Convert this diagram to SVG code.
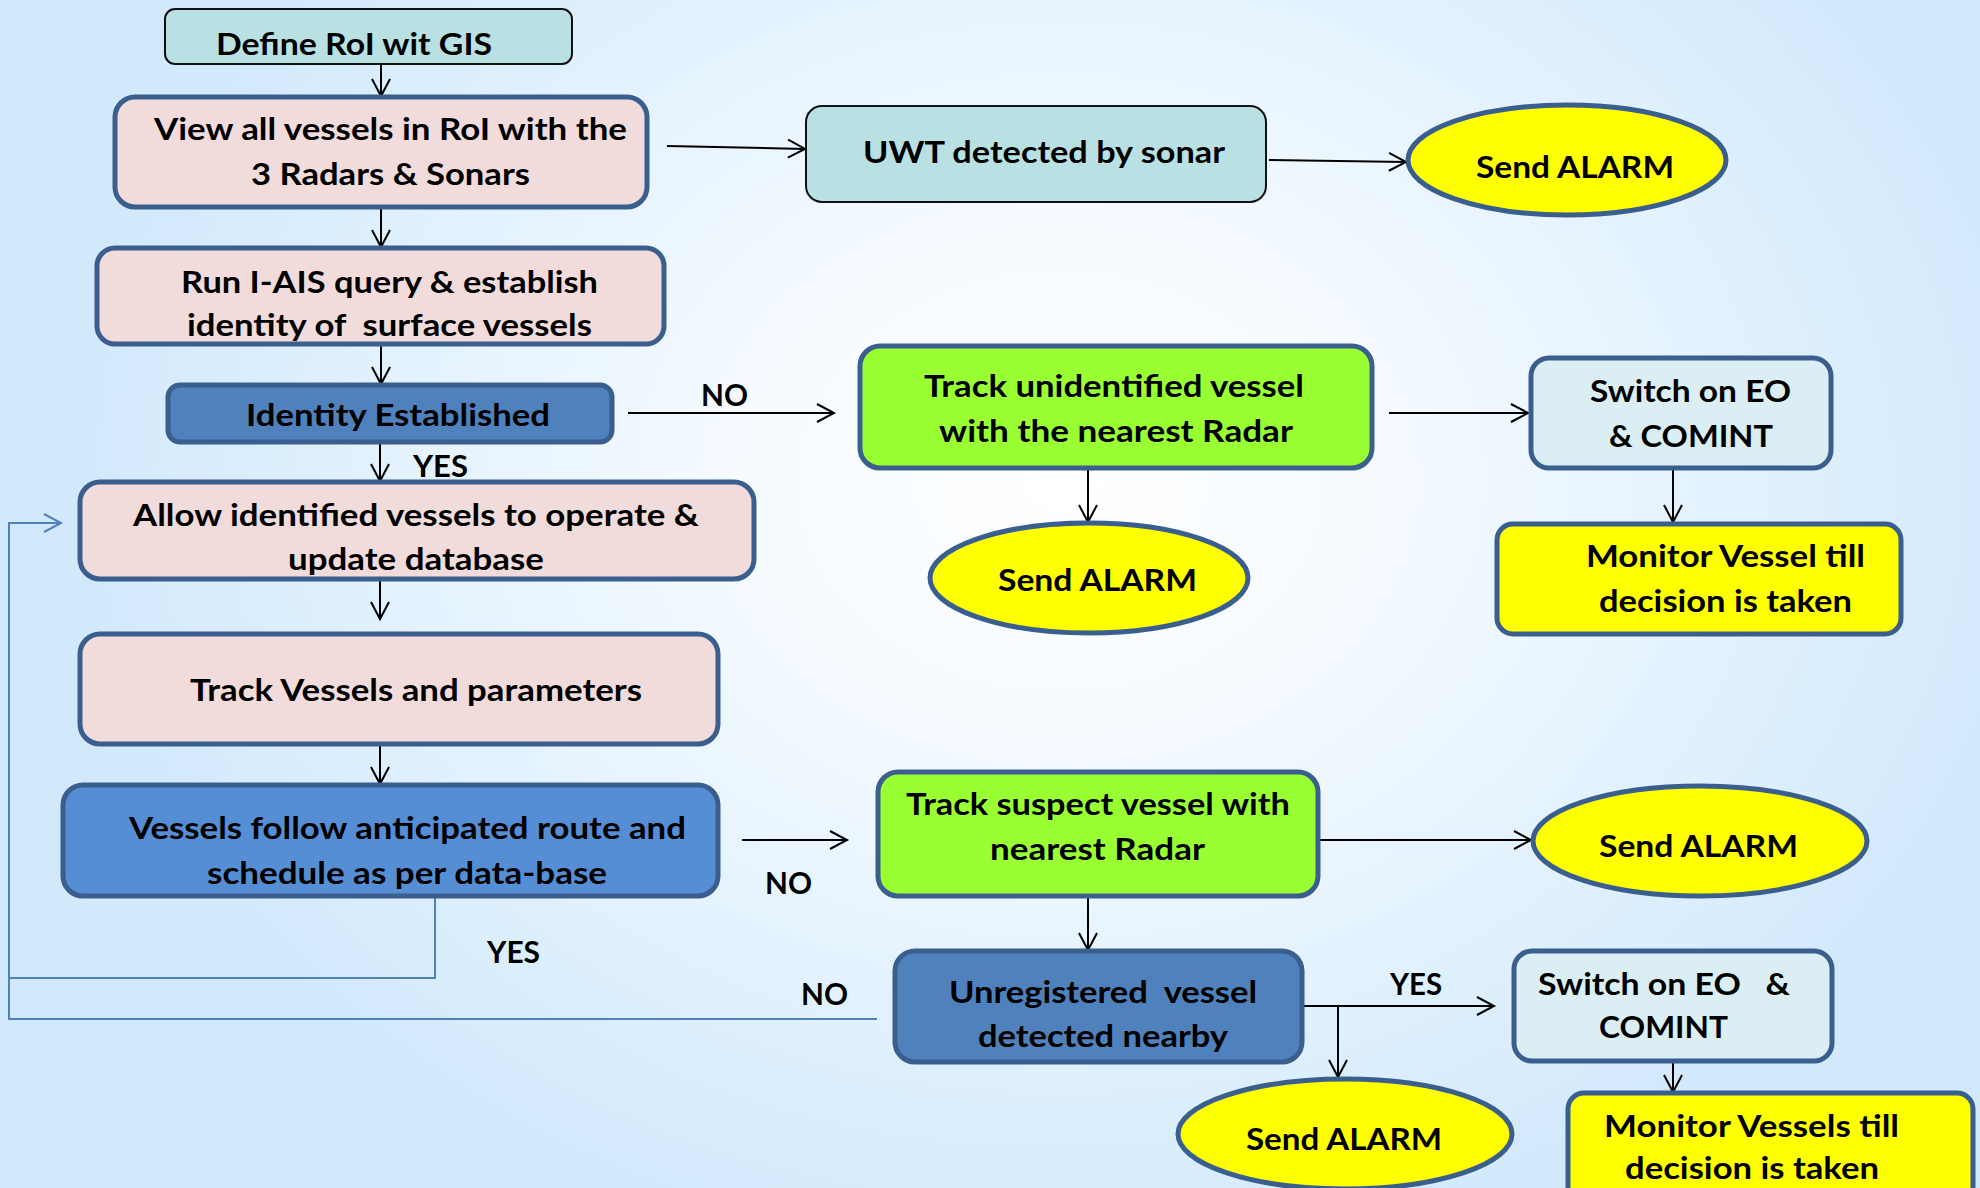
<svg xmlns="http://www.w3.org/2000/svg" width="1980" height="1188" viewBox="0 0 1980 1188">
  <defs>
    <radialGradient id="bg" gradientUnits="userSpaceOnUse" cx="1060" cy="480" r="980" gradientTransform="translate(1060 480) scale(1 0.8) translate(-1060 -480)">
      <stop offset="0" stop-color="#ffffff"/>
      <stop offset="0.35" stop-color="#f4faff"/>
      <stop offset="0.75" stop-color="#dff0fd"/>
      <stop offset="1" stop-color="#d2e9fc"/>
    </radialGradient>
    <marker id="arr" markerUnits="userSpaceOnUse" markerWidth="22" markerHeight="22" refX="18" refY="10" orient="auto" overflow="visible">
      <path d="M1,1 L18,10 L1,19" fill="none" stroke="#000" stroke-width="2"/>
    </marker>
    <marker id="arrBlue" markerUnits="userSpaceOnUse" markerWidth="22" markerHeight="22" refX="18" refY="10" orient="auto" overflow="visible">
      <path d="M1,1 L18,10 L1,19" fill="none" stroke="#4f81bd" stroke-width="2"/>
    </marker>
  </defs>
  <style>
    text { font-family: "Lato", "Carlito", "Liberation Sans", sans-serif; font-weight: bold; font-size: 31px; fill: #000; white-space: pre; }
    .box { stroke: #3a5f8f; stroke-width: 5; }
    .thin { stroke: #111; stroke-width: 2; }
    .pink { fill: #f2dcdb; }
    .teal { fill: #b9e0e2; }
    .blue { fill: #4f81bd; }
    .blue2 { fill: #558ed5; }
    .green { fill: #99ff33; }
    .yellow { fill: #ffff00; }
    .pale { fill: #dbeef4; }
    .conn { fill: none; stroke: #000; stroke-width: 2; marker-end: url(#arr); }
    .loop { fill: none; stroke: #4f81bd; stroke-width: 2; }
  </style>

  <rect x="0" y="0" width="1980" height="1188" fill="url(#bg)"/>

  <!-- connectors -->
  <g id="connectors">
    <path class="conn" d="M381,59 L381,96"/>
    <path class="conn" d="M381,208 L381,247"/>
    <path class="conn" d="M381,340 L381,384"/>
    <path class="conn" d="M380,443 L380,481"/>
    <path class="conn" d="M380,580 L380,619"/>
    <path class="conn" d="M380,745 L380,784"/>
    <path class="conn" d="M667,146 L805,149"/>
    <path class="conn" d="M1269,160 L1406,162"/>
    <path class="conn" d="M628,413 L834,413"/>
    <path class="conn" d="M1389,413 L1528,413"/>
    <path class="conn" d="M1088,469 L1088,522"/>
    <path class="conn" d="M1673,469 L1673,522"/>
    <path class="conn" d="M742,840 L847,840"/>
    <path class="conn" d="M1318,840 L1531,840"/>
    <path class="conn" d="M1088,897 L1088,950"/>
    <path class="conn" d="M1302,1006 L1494,1006"/>
    <path class="conn" d="M1338,1006 L1338,1077"/>
    <path class="conn" d="M1673,1062 L1673,1092"/>
    <!-- feedback loops back to "Allow identified vessels" -->
    <path class="loop" d="M877,1019 L9,1019 L9,978"/>
    <path class="loop" d="M435,884 L435,978 L9,978 L9,523 L61,523" marker-end="url(#arrBlue)"/>
    <!-- branch labels -->
    <text x="701" y="406" textLength="47" lengthAdjust="spacingAndGlyphs">NO</text>
    <text x="413" y="477" textLength="55" lengthAdjust="spacingAndGlyphs">YES</text>
    <text x="765" y="894" textLength="47" lengthAdjust="spacingAndGlyphs">NO</text>
    <text x="487" y="963" textLength="53" lengthAdjust="spacingAndGlyphs">YES</text>
    <text x="801" y="1005" textLength="47" lengthAdjust="spacingAndGlyphs">NO</text>
    <text x="1390" y="995" textLength="52" lengthAdjust="spacingAndGlyphs">YES</text>
  </g>

  <!-- left column -->
  <g id="define-roi">
    <rect class="teal thin" x="165" y="9" width="407" height="55" rx="10"/>
    <text x="216" y="55" textLength="276" lengthAdjust="spacingAndGlyphs">Define RoI wit GIS</text>
  </g>
  <g id="view-vessels">
    <rect class="pink box" x="115" y="97" width="532" height="110" rx="20"/>
    <text x="154" y="140" textLength="473" lengthAdjust="spacingAndGlyphs">View all vessels in RoI with the</text>
    <text x="251" y="185" textLength="279" lengthAdjust="spacingAndGlyphs">3 Radars &amp; Sonars</text>
  </g>
  <g id="run-ais">
    <rect class="pink box" x="97" y="248" width="567" height="96" rx="18"/>
    <text x="181" y="293" textLength="417" lengthAdjust="spacingAndGlyphs">Run I-AIS query &amp; establish</text>
    <text x="187" y="336" textLength="405" lengthAdjust="spacingAndGlyphs">identity of  surface vessels</text>
  </g>
  <g id="identity-established">
    <rect class="blue box" x="168" y="385" width="444" height="57" rx="12"/>
    <text x="246" y="426" textLength="304" lengthAdjust="spacingAndGlyphs">Identity Established</text>
  </g>
  <g id="allow-vessels">
    <rect class="pink box" x="80" y="482" width="674" height="97" rx="20"/>
    <text x="133" y="526" textLength="566" lengthAdjust="spacingAndGlyphs">Allow identified vessels to operate &amp;</text>
    <text x="288" y="570" textLength="256" lengthAdjust="spacingAndGlyphs">update database</text>
  </g>
  <g id="track-vessels">
    <rect class="pink box" x="80" y="634" width="638" height="110" rx="20"/>
    <text x="190" y="701" textLength="452" lengthAdjust="spacingAndGlyphs">Track Vessels and parameters</text>
  </g>
  <g id="anticipated-route">
    <rect class="blue2 box" x="63" y="785" width="655" height="111" rx="20"/>
    <text x="129" y="839" textLength="557" lengthAdjust="spacingAndGlyphs">Vessels follow anticipated route and</text>
    <text x="207" y="884" textLength="400" lengthAdjust="spacingAndGlyphs">schedule as per data-base</text>
  </g>

  <!-- sonar branch -->
  <g id="uwt-sonar">
    <rect class="teal thin" x="806" y="106" width="460" height="96" rx="16"/>
    <text x="863" y="163" textLength="362" lengthAdjust="spacingAndGlyphs">UWT detected by sonar</text>
  </g>
  <g id="alarm-sonar">
    <ellipse class="yellow box" cx="1567" cy="160" rx="159" ry="55"/>
    <text x="1476" y="178" textLength="198" lengthAdjust="spacingAndGlyphs">Send ALARM</text>
  </g>

  <!-- unidentified vessel branch -->
  <g id="track-unidentified">
    <rect class="green box" x="860" y="346" width="512" height="122" rx="20"/>
    <text x="924" y="397" textLength="380" lengthAdjust="spacingAndGlyphs">Track unidentified vessel</text>
    <text x="939" y="442" textLength="354" lengthAdjust="spacingAndGlyphs">with the nearest Radar</text>
  </g>
  <g id="alarm-unidentified">
    <ellipse class="yellow box" cx="1089" cy="578" rx="159" ry="55"/>
    <text x="998" y="591" textLength="199" lengthAdjust="spacingAndGlyphs">Send ALARM</text>
  </g>
  <g id="eo-comint-1">
    <rect class="pale box" x="1531" y="358" width="300" height="110" rx="18"/>
    <text x="1590" y="402" textLength="201" lengthAdjust="spacingAndGlyphs">Switch on EO</text>
    <text x="1609" y="447" textLength="164" lengthAdjust="spacingAndGlyphs">&amp; COMINT</text>
  </g>
  <g id="monitor-1">
    <rect class="yellow box" x="1497" y="524" width="404" height="110" rx="16"/>
    <text x="1586" y="567" textLength="279" lengthAdjust="spacingAndGlyphs">Monitor Vessel till</text>
    <text x="1599" y="612" textLength="253" lengthAdjust="spacingAndGlyphs">decision is taken</text>
  </g>

  <!-- suspect vessel branch -->
  <g id="track-suspect">
    <rect class="green box" x="878" y="772" width="440" height="124" rx="20"/>
    <text x="906" y="815" textLength="384" lengthAdjust="spacingAndGlyphs">Track suspect vessel with</text>
    <text x="990" y="860" textLength="215" lengthAdjust="spacingAndGlyphs">nearest Radar</text>
  </g>
  <g id="alarm-suspect">
    <ellipse class="yellow box" cx="1700" cy="841" rx="167" ry="55"/>
    <text x="1599" y="857" textLength="199" lengthAdjust="spacingAndGlyphs">Send ALARM</text>
  </g>
  <g id="unregistered-vessel">
    <rect class="blue box" x="895" y="951" width="407" height="111" rx="20"/>
    <text x="949" y="1003" textLength="308" lengthAdjust="spacingAndGlyphs">Unregistered  vessel</text>
    <text x="978" y="1047" textLength="250" lengthAdjust="spacingAndGlyphs">detected nearby</text>
  </g>
  <g id="alarm-unregistered">
    <ellipse class="yellow box" cx="1345" cy="1134" rx="167" ry="55"/>
    <text x="1246" y="1150" textLength="196" lengthAdjust="spacingAndGlyphs">Send ALARM</text>
  </g>
  <g id="eo-comint-2">
    <rect class="pale box" x="1514" y="951" width="318" height="110" rx="18"/>
    <text x="1538" y="995" textLength="252" lengthAdjust="spacingAndGlyphs">Switch on EO   &amp;</text>
    <text x="1599" y="1038" textLength="129" lengthAdjust="spacingAndGlyphs">COMINT</text>
  </g>
  <g id="monitor-2">
    <rect class="yellow box" x="1568" y="1093" width="405" height="110" rx="16"/>
    <text x="1604" y="1137" textLength="295" lengthAdjust="spacingAndGlyphs">Monitor Vessels till</text>
    <text x="1625" y="1179" textLength="254" lengthAdjust="spacingAndGlyphs">decision is taken</text>
  </g>
</svg>
